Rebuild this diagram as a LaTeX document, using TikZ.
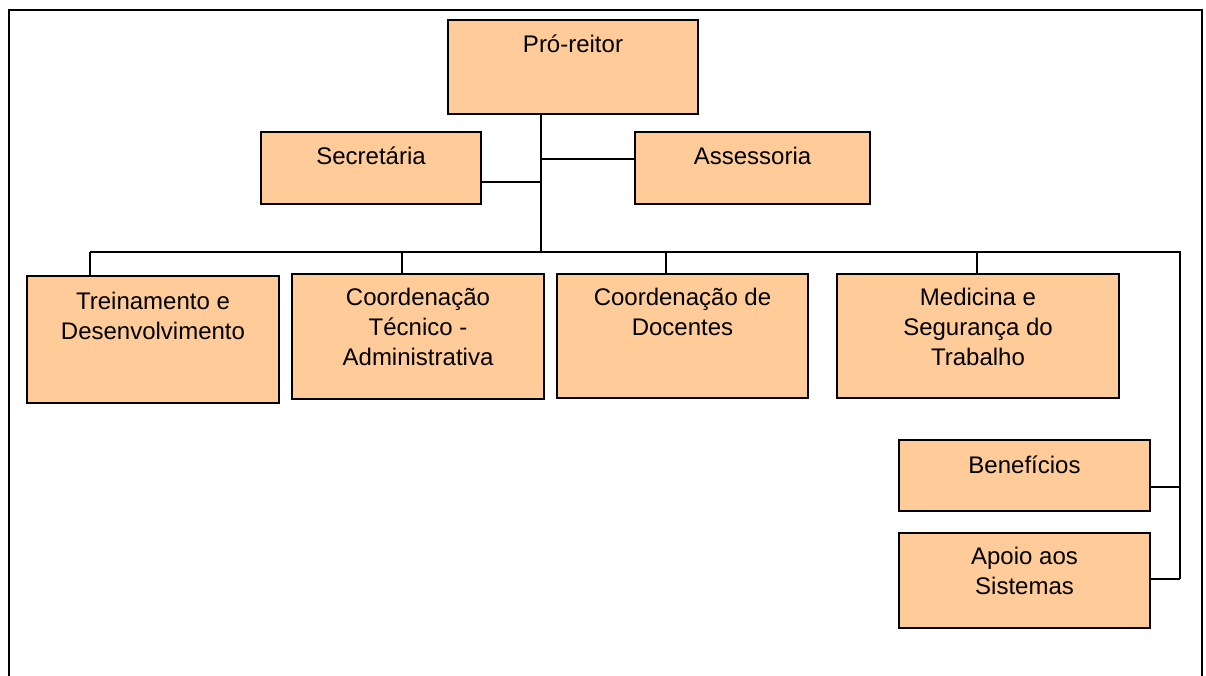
\documentclass[tikz,border=0pt]{standalone}
\usepackage{fontspec}
\setmainfont{Liberation Sans}
\definecolor{boxfill}{RGB}{255,204,153}
\newcommand\tstrut{\rule{0pt}{19pt}}
\tikzset{
  box/.style={draw=black, line width=1.5pt, fill=boxfill, inner sep=0pt, outer sep=0pt, anchor=north west},
  lbl/.style={anchor=north, inner sep=0pt, outer sep=0pt, align=center, font=\fontsize{24}{30}\selectfont, yshift=-14pt},
  conn/.style={line width=1.5pt, draw=black},
  frame/.style={line width=2pt, draw=black}
}
\begin{document}
\begin{tikzpicture}[x=1pt, y=-1pt]
\useasboundingbox (0,0) rectangle (1206,676);
\clip (0,0) rectangle (1206,676);
% outer frame (bottom edge lies outside the picture)
\draw[frame] (9,690) -- (9,10) -- (1202,10) -- (1202,690);

% boxes
\node[box, minimum width=250pt, minimum height=94pt] (pro) at (448,20) {};
\node[box, minimum width=220pt, minimum height=72pt] (sec) at (261,132) {};
\node[box, minimum width=235pt, minimum height=72pt] (ass) at (635,132) {};
\node[box, minimum width=252pt, minimum height=127pt] (tre) at (27,276) {};
\node[box, minimum width=252pt, minimum height=125pt] (cta) at (292,274) {};
\node[box, minimum width=251pt, minimum height=124pt] (doc) at (557,274) {};
\node[box, minimum width=282pt, minimum height=124pt] (med) at (837,274) {};
\node[box, minimum width=251pt, minimum height=71pt] (ben) at (899,440) {};
\node[box, minimum width=251pt, minimum height=95pt] (apo) at (899,533) {};

% labels
\node[lbl] (tpro) at (pro.north) {\tstrut Pró-reitor};
\node[lbl] (tsec) at (sec.north) {\tstrut Secretária};
\node[lbl] (tass) at (ass.north) {\tstrut Assessoria};
\node[lbl] (ttre) at (tre.north) {\tstrut Treinamento e\\Desenvolvimento};
\node[lbl, yshift=2pt] (tcta) at (cta.north) {\tstrut Coordenação\\Técnico -\\Administrativa};
\node[lbl, yshift=2pt] (tdoc) at (doc.north) {\tstrut Coordenação de\\Docentes};
\node[lbl, yshift=2pt] (tmed) at (med.north) {\tstrut Medicina e\\Segurança do\\Trabalho};
\node[lbl] (tben) at (ben.north) {\tstrut Benefícios};
\node[lbl, yshift=2pt] (tapo) at (apo.north) {\tstrut Apoio aos\\Sistemas};

% junction coordinates
\coordinate (jsec) at (541,182);
\coordinate (jass) at (541,159);
\coordinate (jbus) at (541,252);
\coordinate (bl) at (90,252);
\coordinate (d2) at (402,252);
\coordinate (d3) at (666,252);
\coordinate (d4) at (977,252);
\coordinate (br) at (1180,252);
\coordinate (jben) at (1180,487);
\coordinate (japo) at (1180,579);

% connectors
\draw[conn] (pro.south -| jbus) -- (jbus);
\draw[conn] (sec.east |- jsec) -- (jsec);
\draw[conn] (jass) -- (ass.west |- jass);
\draw[conn] (bl) -- (br) -- (japo);
\draw[conn] (bl) -- (tre.north -| bl);
\draw[conn] (d2) -- (cta.north -| d2);
\draw[conn] (d3) -- (doc.north -| d3);
\draw[conn] (d4) -- (med.north -| d4);
\draw[conn] (ben.east |- jben) -- (jben);
\draw[conn] (apo.east |- japo) -- (japo);
\end{tikzpicture}
\end{document}
